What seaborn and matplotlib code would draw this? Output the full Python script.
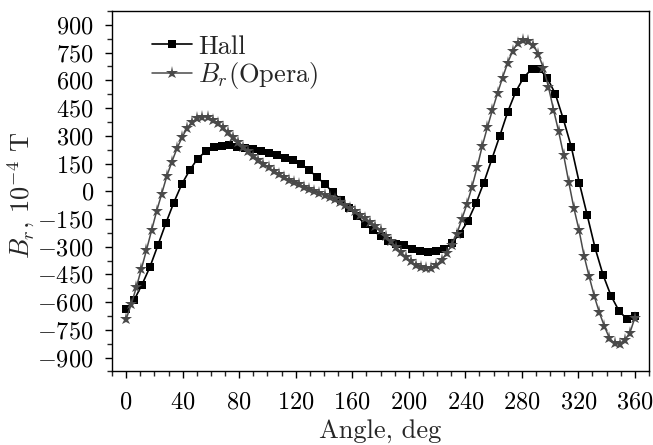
import numpy as np
import pandas as pd
import matplotlib
matplotlib.use('Agg')
import matplotlib.pyplot as plt
import seaborn as sns
from matplotlib.ticker import MultipleLocator

# Hall probe measurement, 5.625 deg step
hall_values = [
    -638, -589, -505, -409, -292, -173, -61, 38, 114, 177,
    215, 240, 246, 249, 240, 234, 226, 218, 207, 196,
    182, 167, 148, 114, 78, 38, -5, -45, -88, -133,
    -175, -211, -242, -269, -287, -292, -310, -323, -328, -323,
    -314, -278, -229, -160, -65, 47, 173, 299, 429, 537,
    615, 660, 660, 612, 525, 390, 240, 47, -129, -308,
    -453, -566, -647, -692, -674,
]
hall_angles = np.linspace(0, 360, len(hall_values))

# Opera simulation, 3.6 deg step
opera_values = [
    -692, -612, -520, -420, -318, -212, -108, -13, 82, 160,
    232, 292, 342, 375, 396, 404, 400, 386, 368, 346,
    320, 296, 268, 242, 217, 193, 171, 149, 129, 110,
    92, 77, 62, 49, 37, 24, 13, 3, -8, -18,
    -30, -43, -58, -73, -90, -108, -127, -147, -165, -186,
    -210, -240, -270, -300, -330, -355, -380, -400, -412, -417,
    -413, -398, -372, -336, -290, -230, -150, -68, 25, 130,
    245, 345, 440, 530, 615, 695, 760, 803, 818, 812,
    790, 743, 668, 566, 442, 325, 195, 50, -90, -208,
    -348, -460, -565, -655, -730, -795, -822, -825, -804, -768,
    -684,
]
opera_angles = np.linspace(0, 360, len(opera_values))

x_ticks = [0, 40, 80, 120, 160, 200, 240, 280, 320, 360]
y_ticks = [-900, -750, -600, -450, -300, -150, 0, 150, 300, 450, 600, 750, 900]

sns.set_theme(style='ticks')
plt.rcParams['font.family'] = ['cmr10']
plt.rcParams['mathtext.fontset'] = 'cm'
plt.rcParams['axes.formatter.use_mathtext'] = True

TICK_FS = 17.5
LABEL_FS = 19

fig = plt.figure(figsize=(6.53, 4.45), dpi=100)
ax = fig.add_axes([0.1715, 0.1652, 0.8224, 0.8101])

hall_df = pd.DataFrame({'angle': hall_angles, 'B': hall_values})
opera_df = pd.DataFrame({'angle': opera_angles, 'B': opera_values})

sns.lineplot(data=hall_df, x='angle', y='B', ax=ax, color='black',
             marker='s', markersize=6.0, markeredgewidth=0, linewidth=1.2,
             label='Hall')
sns.lineplot(data=opera_df, x='angle', y='B', ax=ax, color='#4a4a4a',
             marker='*', markersize=9.5, markeredgewidth=0, linewidth=1.1,
             label=r'$B_r$(Opera)')

ax.set_xlim(-10, 370)
ax.set_ylim(-975, 975)
ax.set_xticks(x_ticks)
ax.set_yticks(y_ticks)
ax.xaxis.set_minor_locator(MultipleLocator(10))
ax.yaxis.set_minor_locator(MultipleLocator(75))
ax.tick_params(which='major', direction='out', length=5, width=1,
               labelsize=TICK_FS, colors='black')
ax.tick_params(which='minor', direction='out', length=3.5, width=1)
ax.tick_params(axis='x', which='major', pad=9.5)
ax.tick_params(axis='y', which='major', pad=8)
for s in ax.spines.values():
    s.set_linewidth(1.0)
    s.set_color('black')

ax.set_xlabel('Angle, deg', fontsize=LABEL_FS, labelpad=3.5)
ax.set_ylabel(r'$B_r$, $10^{-4}$ T', fontsize=LABEL_FS)
ax.yaxis.set_label_coords(-0.14, 0.49)

ax.legend(loc='upper left', frameon=False, fontsize=LABEL_FS,
          bbox_to_anchor=(0.04, 0.985), handlelength=1.5,
          handletextpad=0.25, borderaxespad=0.3, labelspacing=0.05)

fig.savefig('out.png', dpi=100)
